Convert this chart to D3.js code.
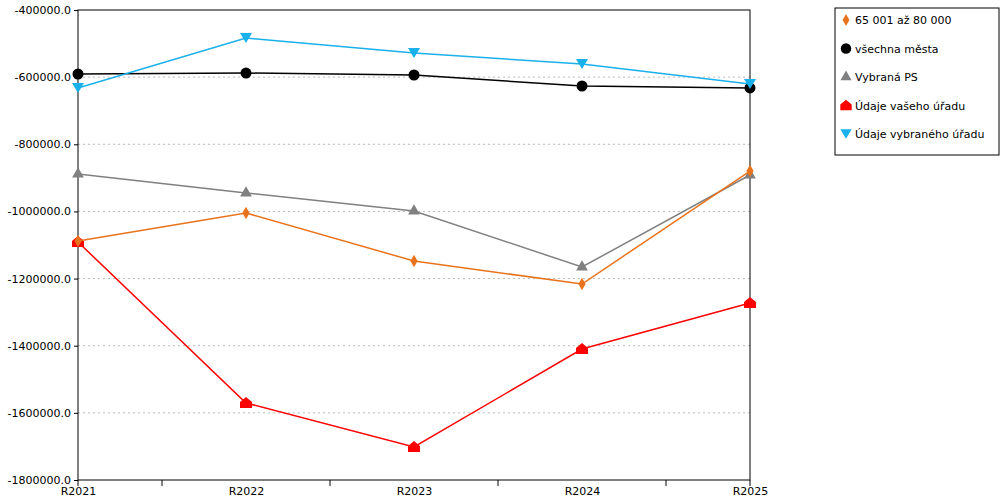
<!DOCTYPE html>
<html><head><meta charset="utf-8">
<script src="https://cdn.jsdelivr.net/npm/d3@7"></script>
<style>body{margin:0;background:#fff}text{font-family:"DejaVu Sans",sans-serif;font-size:11px}</style>
</head><body><svg id="c" width="1000" height="500"></svg>
<script>
const years = ["R2021", "R2022", "R2023", "R2024", "R2025"];
const seriesNames = ["65 001 až 80 000", "všechna města", "Vybraná PS", "Údaje vašeho úřadu", "Údaje vybraného úřadu"];
const orangeValues = [-1088000, -1004700, -1147700, -1216200, -879600];
const blackValues = [-590600, -587700, -593600, -626400, -632300];
const grayValues = [-888500, -945100, -998700, -1165500, -891500];
const redValues = [-1091000, -1570600, -1701700, -1409800, -1272800];
const blueValues = [-632300, -483400, -528100, -560900, -620400];
const yTicks = [-400000, -600000, -800000, -1000000, -1200000, -1400000, -1600000, -1800000];

const svg = d3.select("#c");
const plotLeft = 78, plotRight = 750, plotTop = 10, plotBottom = 480;
const x = d3.scalePoint().domain(years).range([plotLeft, plotRight]);
const y = d3.scaleLinear().domain([-1800000, -400000]).range([plotBottom, plotTop]);

// grid
svg.selectAll("line.grid").data(yTicks.slice(1, -1)).enter().append("line")
  .attr("x1", plotLeft).attr("x2", plotRight).attr("y1", d => y(d)).attr("y2", d => y(d))
  .attr("stroke", "#bbb").attr("stroke-dasharray", "2,3");
svg.append("rect").attr("x", plotLeft).attr("y", plotTop).attr("width", plotRight - plotLeft).attr("height", plotBottom - plotTop)
  .attr("fill", "none").attr("stroke", "#000");

const yAxis = svg.append("g").attr("transform", `translate(${plotLeft},0)`)
  .call(d3.axisLeft(y).tickValues(yTicks).tickSize(4).tickFormat(d => d.toFixed(1)));
yAxis.select(".domain").remove();
yAxis.selectAll("text").attr("fill", "#000").style("font-size", "11px");

const xAxis = svg.append("g").attr("transform", `translate(0,${plotBottom})`)
  .call(d3.axisBottom(x).tickSize(0).tickPadding(7));
xAxis.select(".domain").remove();
xAxis.selectAll("text").attr("fill", "#000").style("font-size", "11px");
const step = x.step();
svg.selectAll("line.xt").data(years.slice(0, -1)).enter().append("line")
  .attr("x1", d => x(d) + step / 2).attr("x2", d => x(d) + step / 2)
  .attr("y1", plotBottom).attr("y2", plotBottom + 6).attr("stroke", "#000");
svg.selectAll("line.xt2").data([years[0], years[years.length - 1]]).enter().append("line")
  .attr("x1", d => x(d)).attr("x2", d => x(d)).attr("y1", plotBottom).attr("y2", plotBottom + 6).attr("stroke", "#000");

const house = "M0,-6L6,-1L6,5L-6,5L-6,-1Z";
const series = [
  {name: seriesNames[3], vals: redValues, color: "#ff0000", sym: house},
  {name: seriesNames[2], vals: grayValues, color: "#808080", sym: d3.symbol(d3.symbolTriangle, 60)()},
  {name: seriesNames[0], vals: orangeValues, color: "#e8731c", sym: d3.symbol(d3.symbolDiamond, 45)()},
  {name: seriesNames[1], vals: blackValues, color: "#000000", sym: d3.symbol(d3.symbolCircle, 95)()},
  {name: seriesNames[4], vals: blueValues, color: "#1ab0ea", sym: "M-6,-5L6,-5L0,5Z"}
];
const line = d3.line().x((d, i) => x(years[i])).y(d => y(d));
series.forEach(s => {
  svg.append("path").attr("d", line(s.vals)).attr("fill", "none").attr("stroke", s.color).attr("stroke-width", 1.5);
  svg.selectAll(null).data(s.vals).enter().append("path")
    .attr("d", s.sym).attr("fill", s.color)
    .attr("transform", (d, i) => `translate(${x(years[i])},${y(d)})`);
});

// legend
const lg = svg.append("g").attr("transform", "translate(835,8)");
lg.append("rect").attr("width", 164).attr("height", 147).attr("fill", "#fff").attr("stroke", "#000");
const legendOrder = [2, 3, 1, 0, 4];
legendOrder.forEach((k, i) => {
  const s = series[k];
  const g = lg.append("g").attr("transform", `translate(11,${12 + i * 28.5})`);
  g.append("path").attr("d", s.sym).attr("fill", s.color).attr("transform", "scale(0.95)");
  g.append("text").attr("x", 9).attr("y", 4).text(s.name);
});
</script></body></html>
